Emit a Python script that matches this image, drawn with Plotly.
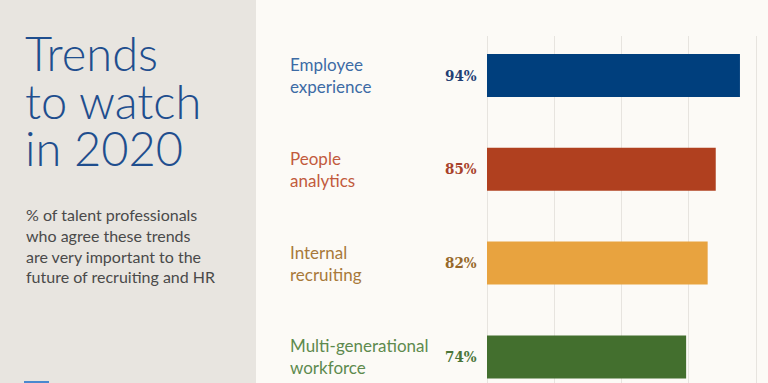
import plotly.graph_objects as go

W, H = 768, 383
ML, MR, MT, MB = 486, 0, 36, 0
PW, PH = W - ML - MR, H - MT - MB

categories = ["Employee<br>experience", "People<br>analytics", "Internal<br>recruiting",
              "Multi-generational<br>workforce"]
values = [94, 85, 82, 74]
bar_colors = ["#003F7D", "#B0401F", "#E8A33F", "#436F2E"]
label_colors = ["#3D6BA5", "#C25A3D", "#A8793A", "#5E8A4E"]
value_colors = ["#1F3F74", "#A8412A", "#96682A", "#4A7538"]
title_lines = ["Trends", "to watch", "in 2020"]
subtitle = ("% of talent professionals<br>who agree these trends<br>"
            "are very important to the<br>future of recruiting and HR")
grid_ticks = [0, 25, 50, 75, 100]

LEFT_BG = "#E8E5E0"
RIGHT_BG = "#FCFAF6"
TITLE_COLOR = "#1F4E8E"


def px(xp):
    return (xp - ML) / PW


def py(yp):
    return 1 - (yp - MT) / PH


fig = go.Figure()
fig.add_trace(go.Bar(
    x=values, y=categories, orientation="h",
    marker=dict(color=bar_colors, line=dict(width=0)),
    hoverinfo="skip", showlegend=False,
))

# left panel
fig.add_shape(type="rect", xref="paper", yref="paper", x0=px(0), x1=px(256),
              y0=py(H), y1=py(0), fillcolor=LEFT_BG, line=dict(width=0), layer="below")
# cropped logo mark at the bottom left
fig.add_shape(type="rect", xref="paper", yref="paper", x0=px(24), x1=px(49),
              y0=py(H), y1=py(381), fillcolor="#4A88CF", line=dict(width=0), layer="above")

ann = []
title_mid = [53, 100.5, 148]
for line, ym in zip(title_lines, title_mid):
    ann.append(dict(xref="paper", yref="paper", x=px(23), y=py(ym),
                    xanchor="left", yanchor="middle", showarrow=False, text=line,
                    font=dict(family="Lato", size=47, color=TITLE_COLOR, weight=300)))
ann.append(dict(xref="paper", yref="paper", x=px(24), y=py(246),
                xanchor="left", yanchor="middle", showarrow=False, align="left",
                text=subtitle,
                font=dict(family="Lato", size=16, color="#4A4A4A")))
for cat, v, lc, vc in zip(categories, values, label_colors, value_colors):
    ann.append(dict(xref="paper", yref="y", x=px(288), y=cat, xanchor="left",
                    yanchor="middle", showarrow=False, align="left", text=cat,
                    font=dict(family="Lato", size=17, color=lc)))
    ann.append(dict(xref="paper", yref="y", x=px(479), y=cat, xanchor="right",
                    yanchor="middle", showarrow=False, text=f"<b>{v}%</b>",
                    font=dict(family="DejaVu Serif Condensed, DejaVu Serif", size=15,
                              color=vc)))

px_per_unit = 2.691
x_min = -1 / px_per_unit
x_max = x_min + PW / px_per_unit
cat_px = 93.8
y_top = -(75.5 - MT) / cat_px
y_bot = y_top + PH / cat_px

fig.update_layout(
    width=W, height=H,
    margin=dict(l=ML, r=MR, t=MT, b=MB, pad=0),
    paper_bgcolor=RIGHT_BG, plot_bgcolor=RIGHT_BG,
    bargap=0.542,
    annotations=ann,
    xaxis=dict(range=[x_min, x_max], tickvals=grid_ticks, showticklabels=False,
               showgrid=True, gridcolor="#E7E4DF", gridwidth=1,
               zeroline=True, zerolinecolor="#E7E4DF", zerolinewidth=1,
               showline=False, ticks="", fixedrange=True),
    yaxis=dict(type="category", categoryorder="array", categoryarray=categories,
               range=[y_bot, y_top], showticklabels=False, showgrid=False,
               zeroline=False, showline=False, ticks="", fixedrange=True),
)

fig.write_html("out.html", config={"displayModeBar": False},
               post_script="document.body.style.margin='0';document.body.style.overflow='hidden';")
